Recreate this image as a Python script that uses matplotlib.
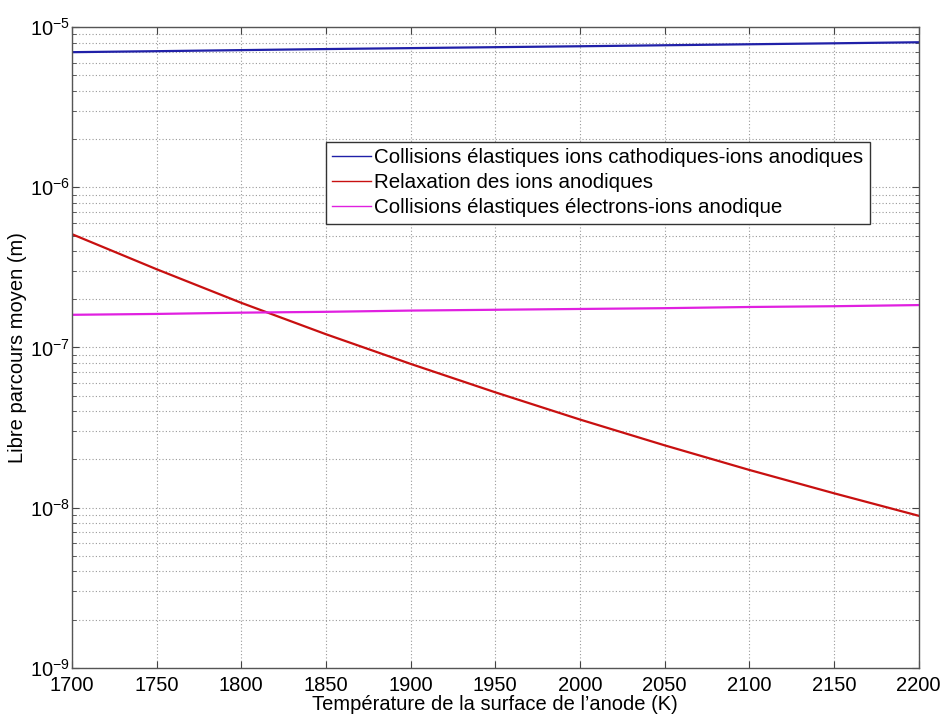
import matplotlib.pyplot as plt
from matplotlib.ticker import FixedLocator, LogLocator, NullFormatter
import numpy as np

plt.rcParams['font.family'] = ['Liberation Sans', 'DejaVu Sans']
plt.rcParams['mathtext.fontset'] = 'custom'
plt.rcParams['mathtext.rm'] = 'Liberation Sans'
plt.rcParams['mathtext.it'] = 'Liberation Sans'

# temperature (K)
temp = [1700, 1750, 1800, 1850, 1900, 1950, 2000, 2050, 2100, 2150, 2200]

# libre parcours moyen (m)
cathodic_ions = [6.98e-6, 7.08e-6, 7.19e-6, 7.30e-6, 7.40e-6, 7.50e-6,
                 7.60e-6, 7.71e-6, 7.82e-6, 7.93e-6, 8.05e-6]
relaxation = [5.1e-7, 3.08e-7, 1.90e-7, 1.21e-7, 7.9e-8, 5.25e-8,
              3.55e-8, 2.45e-8, 1.72e-8, 1.23e-8, 8.9e-9]
electrons = [1.60e-7, 1.62e-7, 1.65e-7, 1.67e-7, 1.70e-7, 1.72e-7,
             1.74e-7, 1.76e-7, 1.79e-7, 1.81e-7, 1.84e-7]

labels = ["Collisions élastiques ions cathodiques-ions anodiques",
          "Relaxation des ions anodiques",
          "Collisions élastiques électrons-ions anodique"]

fig = plt.figure(figsize=(9.47, 7.15), dpi=100)
ax = fig.add_axes([0.076, 0.066, 0.894, 0.896])

ax.semilogy(temp, cathodic_ions, color='#2020a8', lw=1.6, label=labels[0])
ax.semilogy(temp, relaxation, color='#c81010', lw=1.6, label=labels[1])
ax.semilogy(temp, electrons, color='#e020e0', lw=1.6, label=labels[2])

ax.set_xlim(1700, 2200)
ax.set_ylim(1e-9, 1e-5)
ax.xaxis.set_major_locator(FixedLocator(np.arange(1700, 2201, 50)))
ax.yaxis.set_minor_locator(LogLocator(base=10, subs=np.arange(2, 10), numticks=20))
ax.yaxis.set_minor_formatter(NullFormatter())
ax.set_yticks([1e-9, 1e-8, 1e-7, 1e-6, 1e-5])
ax.set_yticklabels([r'$10^{-9}$', r'$10^{-8}$', r'$10^{-7}$', r'$10^{-6}$', r'$10^{-5}$'])

ax.grid(True, which='major', ls=(0, (1, 2)), color='#999999', lw=0.8)
ax.grid(True, which='minor', axis='y', ls=(0, (1, 2)), color='#999999', lw=0.8)

ax.tick_params(which='both', direction='in', top=True, right=True,
               labelsize=14.5, color='#444444')
ax.tick_params(axis='x', pad=6)
ax.tick_params(axis='y', pad=1.5)
ax.tick_params(which='major', length=5)
ax.tick_params(which='minor', length=3)
for s in ax.spines.values():
    s.set_color('#555555')
    s.set_linewidth(1.0)

ax.set_xlabel("Température de la surface de l’anode (K)", fontsize=14.5, labelpad=0)
ax.set_ylabel("Libre parcours moyen (m)", fontsize=14.5, labelpad=2)

leg = ax.legend(loc='upper left', bbox_to_anchor=(0.300, 0.821), fontsize=14.8,
                fancybox=False, framealpha=1, edgecolor='#333333',
                handlelength=1.9, handletextpad=0.15, borderpad=0.3,
                labelspacing=0.3, borderaxespad=0)
leg.get_frame().set_linewidth(1.0)
for line in leg.get_lines():
    line.set_linewidth(1.0)

plt.savefig("out.png", dpi=100)
plt.close()
